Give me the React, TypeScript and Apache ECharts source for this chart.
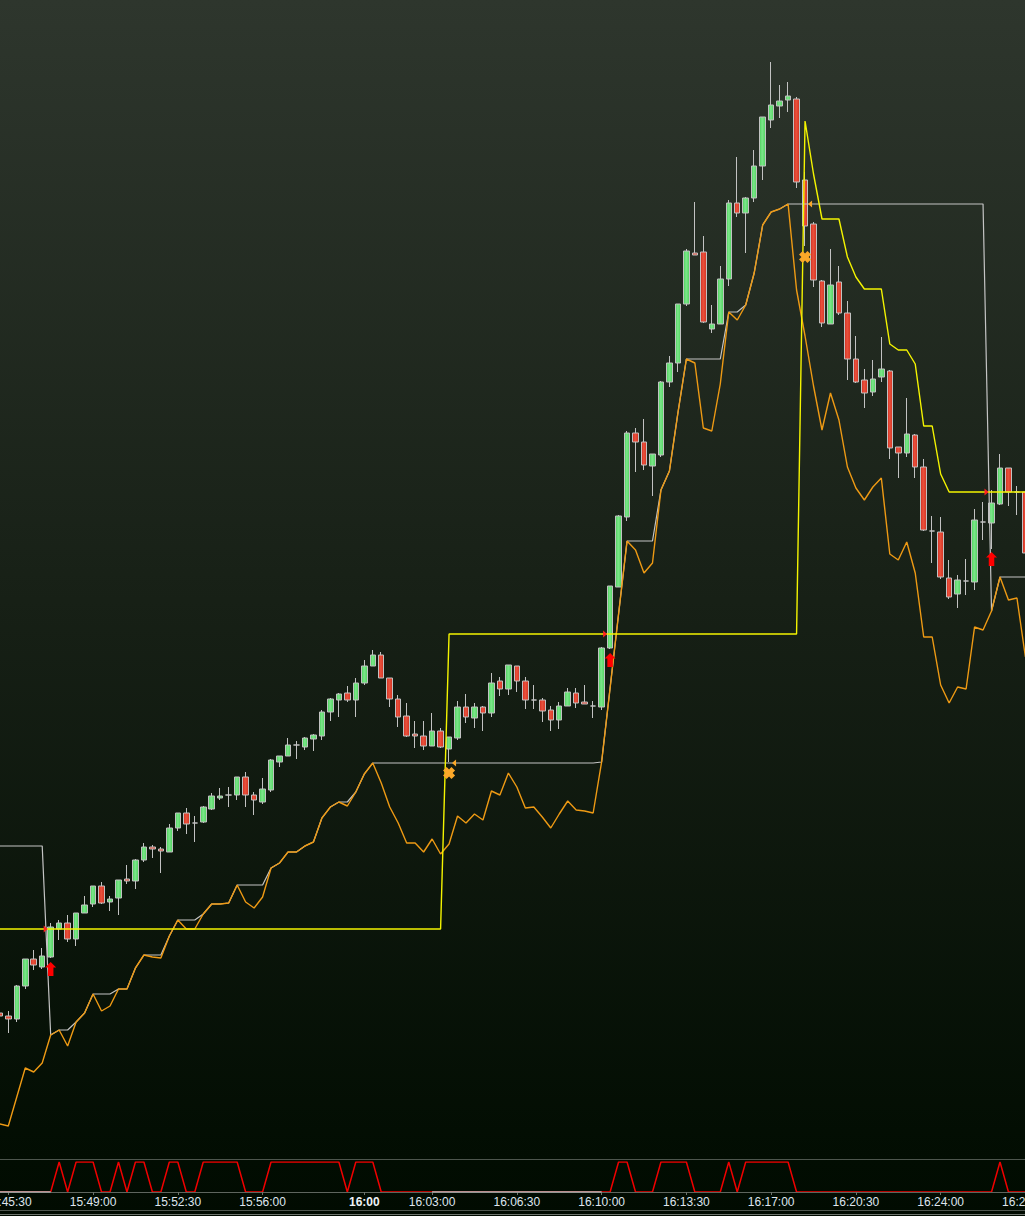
import React, { useEffect, useRef } from "react";
import * as echarts from "echarts";

// ---- Data ----
// Candles: [open, close, low, high]
const OHLC: number[][] = [
  [146, 143, 136, 148], [143, 140, 126, 148], [140, 173, 137, 174], [173, 200, 170, 200], [200, 194, 189, 209],
  [192, 203, 190, 211], [202, 232, 201, 236], [230, 236, 219, 239], [236, 220, 217, 244], [220, 246, 213, 246],
  [246, 254, 246, 263], [255, 273, 252, 273], [273, 256, 255, 277], [257, 260, 248, 263], [261, 279, 244, 279],
  [280, 278, 275, 294], [278, 299, 270, 300], [299, 312, 297, 316], [312, 310, 301, 314], [310, 308, 286, 312],
  [307, 331, 307, 335], [331, 346, 328, 346], [346, 335, 325, 351], [336, 336, 317, 343], [337, 352, 336, 353],
  [350, 363, 349, 366], [361, 363, 359, 371], [364, 364, 352, 372], [364, 382, 359, 382], [382, 364, 352, 387],
  [364, 359, 344, 367], [357, 370, 355, 381], [369, 399, 367, 400], [397, 403, 392, 403], [403, 414, 403, 421],
  [414, 414, 400, 418], [412, 421, 409, 422], [420, 424, 408, 425], [423, 447, 419, 449], [447, 460, 438, 461],
  [459, 465, 442, 466], [466, 459, 457, 473], [459, 476, 442, 481], [476, 493, 474, 499], [493, 504, 493, 509],
  [504, 481, 481, 507], [481, 460, 452, 481], [460, 442, 432, 464], [443, 423, 422, 456], [425, 423, 411, 438],
  [423, 413, 409, 438], [413, 428, 413, 446], [428, 412, 411, 431], [410, 422, 397, 422], [421, 452, 419, 458],
  [452, 442, 436, 465], [441, 452, 431, 456], [452, 446, 428, 453], [446, 476, 442, 486], [478, 470, 463, 482],
  [470, 494, 464, 494], [493, 478, 467, 493], [478, 459, 450, 482], [459, 459, 450, 474], [459, 448, 437, 461],
  [449, 439, 428, 453], [439, 453, 430, 457], [453, 467, 453, 471], [466, 456, 451, 471], [457, 455, 455, 474],
  [453, 453, 441, 458], [452, 511, 449, 512], [511, 573, 510, 573], [572, 643, 572, 644], [642, 726, 638, 728],
  [726, 717, 687, 731], [717, 694, 689, 740], [693, 705, 663, 705], [704, 777, 702, 778], [777, 796, 772, 803],
  [796, 855, 787, 855], [855, 908, 853, 910], [906, 904, 904, 957], [907, 837, 836, 923], [830, 835, 826, 854],
  [835, 880, 835, 893], [880, 956, 873, 959], [956, 946, 942, 1002], [946, 961, 906, 962], [961, 993, 957, 1009],
  [993, 1042, 979, 1042], [1039, 1054, 1031, 1097], [1053, 1058, 1041, 1074], [1059, 1063, 1047, 1077], [1060, 977, 971, 1062],
  [979, 933, 913, 987], [935, 879, 872, 937], [878, 836, 832, 879], [835, 874, 835, 910], [877, 846, 844, 893],
  [846, 800, 779, 858], [800, 777, 776, 823], [779, 766, 751, 790], [767, 780, 763, 799], [782, 790, 777, 822],
  [788, 711, 700, 789], [712, 706, 681, 712], [706, 725, 702, 761], [724, 692, 681, 725], [692, 629, 628, 700],
  [628, 628, 596, 643], [627, 582, 580, 642], [581, 562, 560, 599], [565, 579, 551, 584], [578, 578, 564, 600],
  [577, 639, 569, 650], [637, 637, 619, 657], [636, 656, 610, 669], [655, 691, 654, 705], [691, 667, 653, 691],
  [667, 667, 644, 673], [667, 606, 600, 667],
];

const ORANGE_LINE: number[] = [
  35, 33, 62, 91, 87, 96, 124, 129, 113, 137,
  146, 165, 148, 153, 170, 170, 191, 204, 202, 201,
  223, 239, 230, 230, 245, 255, 255, 256, 274, 257,
  251, 262, 291, 296, 307, 307, 313, 317, 341, 352,
  357, 353, 367, 385, 396, 376, 352, 336, 316, 316,
  307, 320, 305, 315, 343, 336, 345, 339, 368, 364,
  386, 372, 351, 352, 342, 331, 345, 358, 349, 348,
  346, 397, 471, 545, 618, 609, 586, 596, 669, 688,
  746, 800, 796, 731, 728, 775, 847, 839, 854, 886,
  934, 947, 950, 955, 869, 823, 773, 729, 766, 739,
  692, 671, 659, 672, 681, 605, 599, 617, 586, 522,
  522, 474, 456, 472, 470, 532, 529, 548, 582, 559,
  561, 502,
];

const GRAY_LINE: number[] = [
  313, 313, 313, 313, 313, 313, 124, 129, 129, 137,
  146, 165, 165, 165, 170, 170, 191, 204, 204, 204,
  223, 239, 239, 239, 245, 255, 255, 256, 274, 274,
  274, 274, 291, 296, 307, 307, 313, 317, 341, 352,
  357, 357, 367, 385, 396, 396, 396, 396, 396, 396,
  396, 396, 396, 396, 396, 396, 396, 396, 396, 396,
  396, 396, 396, 396, 396, 396, 396, 396, 396, 396,
  396, 397, 471, 545, 618, 618, 618, 618, 669, 688,
  746, 800, 800, 800, 800, 800, 847, 847, 854, 886,
  934, 947, 950, 955, 955, 955, 955, 955, 955, 955,
  955, 955, 955, 955, 955, 955, 955, 955, 955, 955,
  955, 955, 955, 955, 955, 955, 955, 548, 582, 582,
  582, 582,
];

const YELLOW_LINE: number[] = [
  230, 230, 230, 230, 230, 230, 230, 230, 230, 230,
  230, 230, 230, 230, 230, 230, 230, 230, 230, 230,
  230, 230, 230, 230, 230, 230, 230, 230, 230, 230,
  230, 230, 230, 230, 230, 230, 230, 230, 230, 230,
  230, 230, 230, 230, 230, 230, 230, 230, 230, 230,
  230, 230, 230, 525, 525, 525, 525, 525, 525, 525,
  525, 525, 525, 525, 525, 525, 525, 525, 525, 525,
  525, 525, 525, 525, 525, 525, 525, 525, 525, 525,
  525, 525, 525, 525, 525, 525, 525, 525, 525, 525,
  525, 525, 525, 525, 525, 1038, 985, 940, 940, 940,
  902, 882, 870, 870, 870, 815, 809, 809, 795, 733,
  733, 685, 667, 667, 667, 667, 667, 667, 667, 667,
  667, 667,
];

// Lower panel: on/off signal
const SIGNAL: number[] = [
  0, 0, 0, 0, 0, 0, 0, 1, 0, 1,
  1, 1, 0, 0, 1, 0, 1, 1, 0, 0,
  1, 1, 0, 0, 1, 1, 1, 1, 1, 0,
  0, 0, 1, 1, 1, 1, 1, 1, 1, 1,
  1, 0, 1, 1, 1, 0, 0, 0, 0, 0,
  0, 0, 0, 0, 0, 0, 0, 0, 0, 0,
  0, 0, 0, 0, 0, 0, 0, 0, 0, 0,
  0, 0, 0, 1, 1, 0, 0, 0, 1, 1,
  1, 1, 0, 0, 0, 0, 1, 0, 1, 1,
  1, 1, 1, 1, 0, 0, 0, 0, 0, 0,
  0, 0, 0, 0, 0, 0, 0, 0, 0, 0,
  0, 0, 0, 0, 0, 0, 0, 0, 1, 0,
  0, 0,
];

// Lower panel: light base segments
const BASE_SEGMENT: (number | null)[] = [
  0, 0, 0, 0, 0, 0, 0, null, null, null,
  null, null, null, null, null, null, null, null, null, null,
  null, null, null, null, null, null, null, null, null, null,
  null, null, null, null, null, null, null, null, null, null,
  null, null, null, null, null, null, null, null, null, null,
  null, 0, 0, 0, 0, 0, 0, 0, 0, 0,
  0, 0, 0, 0, 0, 0, 0, 0, 0, 0,
  0, 0, null, null, null, null, null, null, null, null,
  null, null, null, null, null, null, null, null, null, null,
  null, null, null, null, null, null, null, null, null, null,
  null, null, null, null, null, null, null, null, null, null,
  null, null, null, null, null, null, null, null, null, null,
  null, null,
];

// Signal markers: [bar index, value]
const ENTRY_ARROWS: number[][] = [[6, 190], [72, 499], [117, 600]];
const ENTRY_FLAGS: number[][] = [[6, 230], [72, 525], [117, 667]];
const EXIT_CROSSES: number[][] = [[53, 386], [95, 902]];
const EXIT_FLAGS: number[][] = [[53, 396], [95, 955]];

// Time axis ticks
const TICK_POS: number[] = [1, 11, 21, 31, 43, 51, 61, 71, 81, 91, 101, 111, 121];
const TICK_LABELS: string[] = [
  "15:45:30", "15:49:00", "15:52:30", "15:56:00", "16:00", "16:03:00", "16:06:30",
  "16:10:00", "16:13:30", "16:17:00", "16:20:30", "16:24:00", "16:27:30",
];
const BOLD_LABELS: string[] = ["16:00"];

const FONT = "'Liberation Sans', Arial, sans-serif";

export default function App() {
  const ref = useRef<HTMLDivElement>(null);

  useEffect(() => {
    if (!ref.current) return;
    const chart = echarts.init(ref.current, null, { renderer: "svg" });
    const cats = OHLC.map((_, i) => String(i));
    const tickMap: Record<number, string> = {};
    TICK_POS.forEach((p, k) => {
      tickMap[p] = TICK_LABELS[k];
    });
    const isTick = (idx: number) => tickMap[idx] !== undefined;

    const green = new echarts.graphic.LinearGradient(0, 0, 1, 0, [
      { offset: 0, color: "#4ccd5b" },
      { offset: 0.45, color: "#7ce78a" },
      { offset: 1, color: "#50d25f" },
    ]);
    const red = new echarts.graphic.LinearGradient(0, 0, 1, 0, [
      { offset: 0, color: "#cf2d1f" },
      { offset: 0.45, color: "#ea523e" },
      { offset: 1, color: "#d43220" },
    ]);

    const gridLeft = -4.41;
    const gridRight = -4.66;

    const option: any = {
      animation: false,
      backgroundColor: "transparent",
      grid: [
        {
          left: gridLeft, right: gridRight, top: 0, height: 1159,
          containLabel: false, outerBoundsMode: "none",
        },
        {
          left: gridLeft, right: gridRight, top: 1162, height: 30,
          containLabel: false, outerBoundsMode: "none",
        },
      ],
      xAxis: [
        {
          type: "category",
          gridIndex: 0,
          data: cats,
          boundaryGap: true,
          show: false,
        },
        {
          type: "category",
          gridIndex: 1,
          data: cats,
          boundaryGap: true,
          z: 5,
          axisLine: { show: true, lineStyle: { color: "#5e655e", width: 1 } },
          axisTick: {
            show: true,
            alignWithLabel: true,
            length: 3,
            interval: (idx: number) => isTick(idx),
            lineStyle: { color: "#6c736c" },
          },
          axisLabel: {
            show: true,
            interval: (idx: number) => isTick(idx),
            margin: 4,
            hideOverlap: false,
            color: "#dfe5ee",
            fontSize: 12,
            fontFamily: FONT,
            formatter: (_v: string, idx: number) => {
              const t = tickMap[idx] || "";
              return BOLD_LABELS.indexOf(t) >= 0 ? "{b|" + t + "}" : t;
            },
            rich: {
              b: { fontWeight: "bold", fontSize: 12, fontFamily: FONT, color: "#eef2f7" },
            },
          },
          splitLine: { show: false },
        },
      ],
      yAxis: [
        { type: "value", gridIndex: 0, min: 0, max: 1159, show: false, splitLine: { show: false } },
        { type: "value", gridIndex: 1, min: 0, max: 1, show: false, splitLine: { show: false } },
      ],
      graphic: [
        {
          type: "line",
          silent: true,
          shape: { x1: 0, y1: 1159.5, x2: 1025, y2: 1159.5 },
          style: { stroke: "#4d554d", lineWidth: 1 },
        },
        {
          type: "line",
          silent: true,
          shape: { x1: 0, y1: 1210.5, x2: 1025, y2: 1210.5 },
          style: { stroke: "#515851", lineWidth: 1 },
        },
        {
          type: "line",
          silent: true,
          shape: { x1: 0, y1: 1214.5, x2: 1025, y2: 1214.5 },
          style: { stroke: "#6f766f", lineWidth: 1 },
        },
      ],
      series: [
        {
          type: "candlestick",
          xAxisIndex: 0,
          yAxisIndex: 0,
          data: OHLC,
          barWidth: 6,
          z: 2,
          silent: true,
          itemStyle: {
            color: green,
            color0: red,
            borderColor: "#c2c2c2",
            borderColor0: "#c2c2c2",
            borderWidth: 1,
          },
          emphasis: { disabled: true },
        },
        {
          type: "line",
          xAxisIndex: 0,
          yAxisIndex: 0,
          data: GRAY_LINE,
          symbol: "none",
          silent: true,
          z: 3,
          lineStyle: { color: "#c4c4c4", width: 1.2 },
          emphasis: { disabled: true },
        },
        {
          type: "line",
          xAxisIndex: 0,
          yAxisIndex: 0,
          data: ORANGE_LINE,
          symbol: "none",
          silent: true,
          z: 4,
          lineStyle: { color: "#ee9a14", width: 1.4 },
          emphasis: { disabled: true },
        },
        {
          type: "line",
          xAxisIndex: 0,
          yAxisIndex: 0,
          data: YELLOW_LINE,
          symbol: "none",
          silent: true,
          z: 5,
          lineStyle: { color: "#f4f400", width: 1.4 },
          emphasis: { disabled: true },
        },
        {
          type: "scatter",
          xAxisIndex: 0,
          yAxisIndex: 0,
          data: ENTRY_ARROWS,
          symbol: "path://M6,0 L12,6 L9,6 L9,15 L3,15 L3,6 L0,6 Z",
          symbolSize: [11, 14],
          silent: true,
          z: 8,
          itemStyle: { color: "#ff0000", opacity: 1 },
          emphasis: { disabled: true },
        },
        {
          type: "scatter",
          xAxisIndex: 0,
          yAxisIndex: 0,
          data: ENTRY_FLAGS,
          symbol: "path://M0,0 L4,3.5 L0,7 Z",
          symbolSize: [4, 7],
          symbolOffset: [-5, 0],
          silent: true,
          z: 8,
          itemStyle: { color: "#ff2020", opacity: 1 },
          emphasis: { disabled: true },
        },
        {
          type: "scatter",
          xAxisIndex: 0,
          yAxisIndex: 0,
          data: EXIT_CROSSES,
          symbol: "path://M0,3 L3,0 L5,2 L7,0 L10,3 L8,5 L10,7 L7,10 L5,8 L3,10 L0,7 L2,5 Z",
          symbolSize: [12, 12],
          silent: true,
          z: 8,
          itemStyle: { color: "#fba829", opacity: 1 },
          emphasis: { disabled: true },
        },
        {
          type: "scatter",
          xAxisIndex: 0,
          yAxisIndex: 0,
          data: EXIT_FLAGS,
          symbol: "path://M4,0 L4,7 L0,3.5 Z",
          symbolSize: [4, 7],
          symbolOffset: [5, 0],
          silent: true,
          z: 8,
          itemStyle: { color: "#fba829", opacity: 1 },
          emphasis: { disabled: true },
        },
        {
          type: "line",
          xAxisIndex: 1,
          yAxisIndex: 1,
          data: SIGNAL,
          symbol: "none",
          silent: true,
          z: 2,
          lineStyle: { color: "#f00000", width: 1.5 },
          emphasis: { disabled: true },
        },
        {
          type: "line",
          xAxisIndex: 1,
          yAxisIndex: 1,
          data: BASE_SEGMENT,
          symbol: "none",
          silent: true,
          z: 7,
          lineStyle: { color: "#bdbdbd", width: 1.5 },
          emphasis: { disabled: true },
        },
      ],
    };

    chart.setOption(option);
    return () => {
      chart.dispose();
    };
  }, []);

  return (
    <div
      style={{
        position: "absolute",
        left: 0,
        top: 0,
        width: 1025,
        height: 1216,
        overflow: "hidden",
        background:
          "linear-gradient(to bottom, #2e362d 0px, #172016 600px, #020d02 1159px, #010b01 1216px)",
      }}
    >
      <div ref={ref} style={{ width: 1025, height: 1216 }} />
    </div>
  );
}
